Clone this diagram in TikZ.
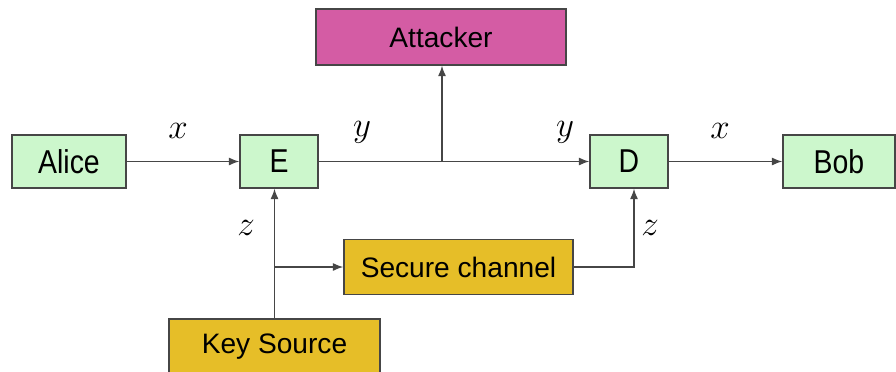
\documentclass[tikz,border=0pt]{standalone}
\usepackage{fontspec}
\setmainfont{Liberation Sans}
\newfontfamily\partyfont[FakeStretch=0.86]{Liberation Sans}
\usetikzlibrary{arrows.meta}
\definecolor{boxgreen}{RGB}{204,247,204}
\definecolor{boxpink}{RGB}{212,92,164}
\definecolor{boxgold}{RGB}{230,190,40}
\definecolor{edgegray}{RGB}{70,70,70}
\tikzset{
  block/.style={draw=edgegray,line width=1pt,inner sep=0pt},
  party/.style={block,fill=boxgreen,minimum height=1.325cm,font=\partyfont\fontsize{23.5}{27}\selectfont},
  wide/.style={block,minimum height=1.375cm,font=\fontsize{20}{24}\selectfont},
  sig/.style={font=\fontsize{23}{27}\selectfont},
  flow/.style={draw=edgegray,line width=0.9pt,-{Latex[length=2.6mm,width=2mm]}}
}
\begin{document}
\begin{tikzpicture}[x=0.025cm,y=-0.025cm]
\useasboundingbox (0,0) rectangle (896,371);
% boxes
\node[party,minimum width=2.85cm] (alice) at (69,161.5) {Alice};
\node[party,minimum width=1.95cm] (enc) at (279,161.5) {E};
\node[party,minimum width=1.95cm] (dec) at (629,161.5) {D};
\node[party,minimum width=2.8cm] (bob) at (839,161.5) {Bob};
\node[wide,fill=boxpink,minimum width=6.25cm,minimum height=1.4cm] (atk) at (441,37) {Attacker};
\node[wide,fill=boxgold,minimum width=5.725cm] (sec) at (458.5,267) {Secure channel};
\node[wide,fill=boxgold,minimum width=5.275cm] (key) at (274.5,346.5) {Key Source};
% signals
\node[sig] (lx1) at (178,131) {$x$};
\node[sig] (ly1) at (362,132) {$y$};
\node[sig] (ly2) at (565,132) {$y$};
\node[sig] (lx2) at (720,131) {$x$};
\node[sig] (lz1) at (246,228) {$z$};
\node[sig] (lz2) at (650,228) {$z$};
% connectors
\coordinate (tap) at (442,161.5);
\coordinate (split) at (key.north |- sec.west);
\draw[flow] (alice) -- (enc);
\draw[flow] (enc) -- (dec);
\draw[flow] (tap) -- (tap |- atk.south);
\draw[flow] (dec) -- (bob);
\draw[flow] (key.north) -- (key.north |- enc.south);
\draw[flow] (split) -- (sec.west);
\draw[flow] (sec.east) -| ([xshift=0.125cm]dec.south);
\end{tikzpicture}
\end{document}
